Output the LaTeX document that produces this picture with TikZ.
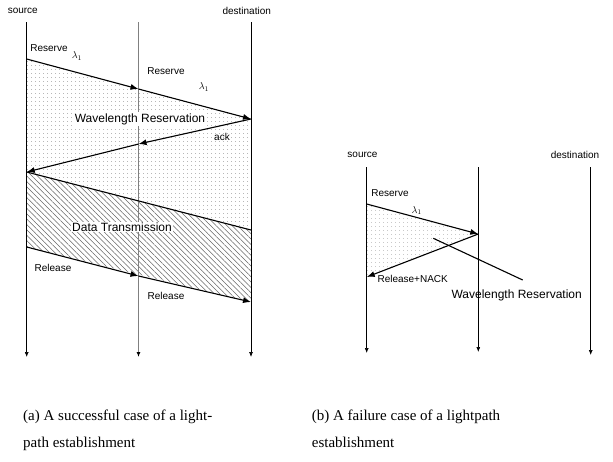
\documentclass[tikz,border=0pt]{standalone}
\usepackage{amsmath}
\usepackage{fontspec}
\setmainfont{Liberation Serif}
\setsansfont{Liberation Sans}
\usetikzlibrary{arrows.meta}
\usetikzlibrary{patterns.meta}

\begin{document}
\begin{tikzpicture}[x=1pt,y=-1pt]
			\tikzset{timeline/.style={line width=0.7pt, -{Latex[length=5pt,width=4pt,black]}}}
			\tikzset{msg/.style={line width=1.1pt, -{Latex[length=8pt,width=6pt]}}}
			\tikzset{msgtext/.style={font=\sffamily\fontsize{10}{12}\selectfont, inner sep=1pt}}
			\tikzset{bigtext/.style={font=\sffamily\fontsize{12}{14}\selectfont, inner sep=1pt}}
			\tikzset{caption/.style={font=\fontsize{15}{27}\selectfont, align=left, anchor=north west, inner sep=0pt}}
			\tikzset{dotted area/.style={pattern={Dots[distance=4pt, radius=0.45pt]}, pattern color=gray}}
			\tikzset{hatched area/.style={pattern={Lines[distance=3.8pt, angle=-45, line width=0.5pt]}, pattern color=gray!80!black}}
			\useasboundingbox (0,0) rectangle (613,461);
			%(a) points on the time lines
			\coordinate (sT) at (26.7,22);   \coordinate (sB) at (26.7,357);
			\coordinate (mT) at (138.5,22);  \coordinate (mB) at (138.5,357);
			\coordinate (dT) at (251,22);    \coordinate (dB) at (251,357);
			\coordinate (s1) at (26.7,59);   \coordinate (m1) at (138.5,89);  \coordinate (d1) at (251,119);
			\coordinate (m2) at (138.5,144); \coordinate (s2) at (26.7,172);  \coordinate (d2) at (251,230);
			\coordinate (s3) at (26.7,247);  \coordinate (m3) at (138.5,276); \coordinate (d3) at (251,302);
			%(a) areas
			\fill[dotted area] (s1) -- (d1) -- (d2) -- (s2) -- cycle;
			\fill[hatched area] (s2) -- (d2) -- (d3) -- (s3) -- cycle;
			%(a) time lines
			\draw[timeline] (sT) -- (sB);
			\draw[timeline, gray, line width=1.4pt] (mT) -- (mB);
			\draw[timeline] (dT) -- (dB);
			%(a) messages
			\draw[msg] (s1) -- (m1);
			\draw[msg] (m1) -- (d1);
			\draw[msg] (d1) -- (m2);
			\draw[msg] (m2) -- (s2);
			\draw[line width=1.1pt] (s2) -- (d2);
			\draw[msg] (s3) -- (m3);
			\draw[msg] (m3) -- (d3);
			%(a) labels
			\node[msgtext] (srcA) at (22.8,11) {source};
			\node[msgtext] (dstA) at (246.7,11) {destination};
			\node[msgtext] (resA1) at (49,48) {Reserve};
			\node[msgtext] (lamA1) at (77,56) {$\lambda_1$};
			\node[msgtext] (resA2) at (166,71) {Reserve};
			\node[msgtext] (lamA2) at (204,87) {$\lambda_1$};
			\node[bigtext, fill=white] (wrA) at (140,119) {Wavelength Reservation};
			\node[msgtext] (ackA) at (222,137) {ack};
			\node[bigtext, fill=white] (dtA) at (122,227) {Data Transmission};
			\node[msgtext] (relA1) at (53,268) {Release};
			\node[msgtext] (relA2) at (166,296) {Release};
			%(b) points on the time lines
			\coordinate (sTb) at (366.7,167); \coordinate (sBb) at (366.7,353);
			\coordinate (mTb) at (478.3,167); \coordinate (mBb) at (478.3,352);
			\coordinate (dTb) at (590.7,167); \coordinate (dBb) at (590.7,355);
			\coordinate (s1b) at (366.7,204); \coordinate (m1b) at (478.3,234); \coordinate (s2b) at (366.7,277);
			\coordinate (pin) at (433.3,238.3); \coordinate (pout) at (522.7,280);
			%(b) area
			\fill[dotted area] (s1b) -- (m1b) -- (s2b) -- cycle;
			%(b) time lines and messages
			\draw[timeline] (sTb) -- (sBb);
			\draw[timeline] (mTb) -- (mBb);
			\draw[timeline] (dTb) -- (dBb);
			\draw[msg] (s1b) -- (m1b);
			\draw[msg] (m1b) -- (s2b);
			\draw[line width=1.1pt] (pin) -- (pout);
			%(b) labels
			\node[msgtext] (srcB) at (362.5,155) {source};
			\node[msgtext] (dstB) at (575,155) {destination};
			\node[msgtext] (resB) at (390,193) {Reserve};
			\node[msgtext] (lamB) at (416.7,210.7) {$\lambda_1$};
			\node[msgtext] (nackB) at (412.7,279.3) {Release+NACK};
			\node[bigtext] (wrB) at (516.7,295) {Wavelength Reservation};
			%captions
			\node[caption] (capA) at (23,410) {(a) A successful case of a light-\\path establishment};
			\node[caption] (capB) at (311.7,410) {(b) A failure case of a lightpath\\establishment};
\end{tikzpicture}
\end{document}
